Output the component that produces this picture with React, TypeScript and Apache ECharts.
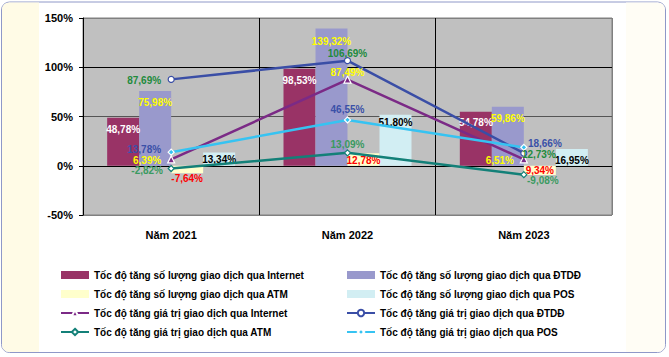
import React, { useEffect, useRef } from "react";
import * as echarts from "echarts";

const categories = ["Năm 2021", "Năm 2022", "Năm 2023"];
const internetCount = [48.78, 98.53, 54.78];
const mobileCount = [75.98, 139.32, 59.86];
const atmCount = [-7.64, 12.78, -9.34];
const atmCountLabels = ["-7,64%", "12,78%", "9,34%"];
const posCount = [13.34, 51.8, 16.95];
const internetValue = [6.39, 87.49, 6.51];
const mobileValue = [87.69, 106.69, 12.73];
const atmValue = [-2.82, 13.09, -9.08];
const posValue = [13.78, 46.55, 18.66];
const yMin = -50;
const yMax = 150;
const yStep = 50;

const names = {
  ic: "Tốc độ tăng số lượng giao dịch qua Internet",
  mc: "Tốc độ tăng số lượng giao dịch qua ĐTDĐ",
  ac: "Tốc độ tăng số lượng giao dịch qua ATM",
  pc: "Tốc độ tăng số lượng giao dịch qua POS",
  iv: "Tốc độ tăng giá trị giao dịch qua Internet",
  mv: "Tốc độ tăng giá trị giao dịch qua ĐTDĐ",
  av: "Tốc độ tăng giá trị giao dịch qua ATM",
  pv: "Tốc độ tăng giá trị giao dịch qua POS",
};

const FONT = "Liberation Sans, Arial, sans-serif";
const fmt = (v: number) => v.toFixed(2).replace(".", ",") + "%";

// label styling (kept apart from the data)
const barLabelDist = {
  ic: [7, 7, 6],
  mc: [7, 8, 7],
  pc: [2, 3, 6],
};
const atmBarLabelPos = [
  { position: "bottom", distance: 0 },
  { position: "insideTop", distance: 2 },
  { position: "inside", distance: 0 },
];
const lineLabelOffsets = {
  iv: [[-24, 1], [0, -7], [-24, 1]],
  mv: [[-27, 1], [0, -7], [15, 1]],
  av: [[-24, 2], [0, -8], [19, 6]],
  pv: [[-27, -3], [0, -10], [21, -4]],
};

const labelBase = { fontFamily: FONT, fontSize: 10, fontWeight: "bold" as const };

function barSeries(name: string, values: number[], color: string, labelColor: string, dists: number[]) {
  return {
    name,
    type: "bar",
    barWidth: 32,
    barGap: "0%",
    itemStyle: { color },
    data: values.map((v, i) => ({
      value: v,
      label: { show: true, position: "insideTop", distance: dists[i], formatter: fmt(v), color: labelColor, ...labelBase },
    })),
  };
}

function lineSeries(
  name: string,
  values: number[],
  color: string,
  symbol: string,
  fill: string,
  border: string,
  labelColor: string,
  offsets: number[][]
) {
  return {
    name,
    type: "line",
    symbol,
    symbolSize: symbol === "triangle" ? 7 : 6,
    showAllSymbol: true,
    z: 5,
    lineStyle: { color, width: 2.5 },
    itemStyle: { color: fill, borderColor: border, borderWidth: 1.2 },
    data: values.map((v, i) => ({
      value: v,
      label: { show: true, position: "inside", offset: offsets[i], formatter: fmt(v), color: labelColor, ...labelBase },
    })),
  };
}

export default function App() {
  const ref = useRef<HTMLDivElement>(null);
  useEffect(() => {
    if (!ref.current) return;
    const chart = echarts.init(ref.current, null, { renderer: "svg" });
    const legendText = { fontFamily: FONT, fontSize: 10, fontWeight: "bold" as const, color: "#000", lineHeight: 12 };
    const option: any = {
      animation: false,
      backgroundColor: "transparent",
      graphic: [
        {
          type: "rect",
          z: -10,
          shape: { x: 1.5, y: 2, width: 664, height: 350.5, r: 8 },
          style: { fill: "#ffffff", stroke: "#8f98c8", lineWidth: 1 },
        },
        {
          type: "rect",
          z: -9,
          shape: { x: 2, y: 2.5, width: 37, height: 349.5, r: [7, 0, 0, 7] },
          style: { fill: "#fffbe6" },
        },
        {
          type: "rect",
          z: -9,
          shape: { x: 626, y: 2.5, width: 39, height: 349.5, r: [0, 7, 7, 0] },
          style: { fill: "#fffdf5" },
        },
      ],
      grid: {
        left: 83,
        right: 57,
        top: 18,
        bottom: 142,
        show: true,
        backgroundColor: "#c0c0c0",
        borderColor: "#808080",
        borderWidth: 1,
      },
      legend: [
        {
          orient: "vertical",
          left: 60,
          top: 269,
          padding: 0,
          itemWidth: 28,
          itemHeight: 8,
          itemGap: 7,
          textStyle: legendText,
          data: [
            { name: names.ic, icon: "rect" },
            { name: names.ac, icon: "rect" },
            { name: names.iv },
            { name: names.av },
          ],
        },
        {
          orient: "vertical",
          left: 346,
          top: 269,
          padding: 0,
          itemWidth: 28,
          itemHeight: 8,
          itemGap: 7,
          textStyle: legendText,
          data: [
            { name: names.mc, icon: "rect" },
            { name: names.pc, icon: "rect" },
            { name: names.mv },
            { name: names.pv },
          ],
        },
      ],
      xAxis: {
        type: "category",
        data: categories,
        axisLine: { show: false },
        axisTick: { show: false },
        axisLabel: { margin: 14, fontFamily: FONT, fontSize: 11, fontWeight: "bold", color: "#000" },
        splitLine: { show: true, interval: 0, lineStyle: { color: ["#000", "#000", "#000", "#808080"], width: 1 } },
      },
      yAxis: {
        type: "value",
        min: yMin,
        max: yMax,
        interval: yStep,
        axisLine: { show: true, lineStyle: { color: "#000", width: 1 } },
        axisTick: { show: true, length: 4, lineStyle: { color: "#000" } },
        axisLabel: {
          margin: 10,
          fontFamily: FONT,
          fontSize: 11,
          fontWeight: "bold",
          color: "#000",
          formatter: (v: number) => v + "%",
        },
        splitLine: {
          show: true,
          lineStyle: { color: ["#808080", "#000", "#555555", "#000", "#808080"], width: 1 },
        },
      },
      series: [
        barSeries(names.ic, internetCount, "#993366", "#ffffff", barLabelDist.ic),
        barSeries(names.mc, mobileCount, "#9999cc", "#ffff00", barLabelDist.mc),
        {
          name: names.ac,
          type: "bar",
          barWidth: 32,
          barGap: "0%",
          itemStyle: { color: "#ffffcc" },
          data: atmCount.map((v, i) => ({
            value: v,
            label: {
              show: true,
              ...atmBarLabelPos[i],
              formatter: atmCountLabels[i],
              color: "#ff0000",
              ...labelBase,
            },
          })),
        },
        barSeries(names.pc, posCount, "#d2eef3", "#000000", barLabelDist.pc),
        lineSeries(names.iv, internetValue, "#7b2a86", "triangle", "#7b2a86", "#ffffff", "#ffff00", lineLabelOffsets.iv),
        lineSeries(names.mv, mobileValue, "#3a4ea6", "circle", "#ffffff", "#3a4ea6", "#228b3c", lineLabelOffsets.mv),
        lineSeries(names.av, atmValue, "#138078", "diamond", "#ffffff", "#138078", "#3a9a60", lineLabelOffsets.av),
        lineSeries(names.pv, posValue, "#36c3f2", "diamond", "#36c3f2", "#ffffff", "#3a50a8", lineLabelOffsets.pv),
      ],
    };
    chart.setOption(option);
    return () => chart.dispose();
  }, []);
  return (
    <div
      ref={ref}
      style={{ position: "absolute", left: 0, top: 0, width: 669, height: 357 }}
    />
  );
}
